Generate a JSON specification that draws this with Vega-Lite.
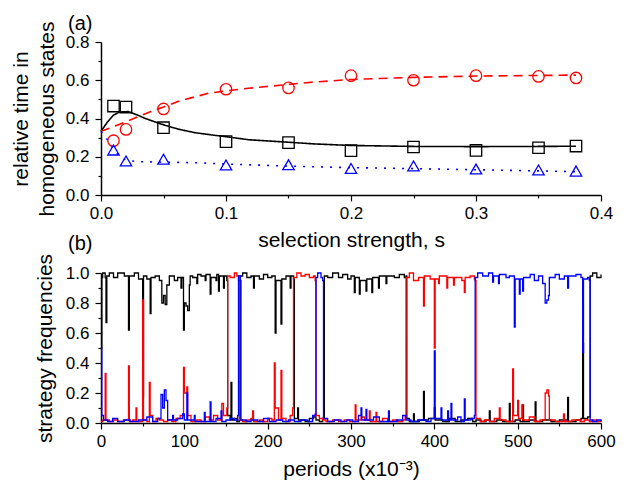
{
  "$schema": "https://vega.github.io/schema/vega-lite/v6.json",
  "padding": {"left": 10, "top": 14, "right": 10, "bottom": 5},
  "background": "white",
  "config": {
    "font": "Liberation Sans",
    "view": {"stroke": null},
    "axis": {"domainColor": "#000", "domainWidth": 1.5, "tickColor": "#000", "tickWidth": 1.2, "labelColor": "#000", "labelFontSize": 17, "titleFontSize": 21, "titleFontWeight": "normal", "titleColor": "#000", "grid": false, "labelFont": "Liberation Sans", "titleFont": "Liberation Sans", "labelOverlap": false, "labelFlush": false}
  },
  "datasets": {
    "pts": [
      {"k": "s1", "s": 0.01, "v": 0.465}, {"k": "s1", "s": 0.02, "v": 0.46}, {"k": "s1", "s": 0.05, "v": 0.352}, {"k": "s1", "s": 0.1, "v": 0.279}, {"k": "s1", "s": 0.15, "v": 0.274}, {"k": "s1", "s": 0.2, "v": 0.232}, {"k": "s1", "s": 0.25, "v": 0.251}, {"k": "s1", "s": 0.3, "v": 0.233}, {"k": "s1", "s": 0.35, "v": 0.247}, {"k": "s1", "s": 0.38, "v": 0.256},
      {"k": "s2", "s": 0.01, "v": 0.284}, {"k": "s2", "s": 0.02, "v": 0.343}, {"k": "s2", "s": 0.05, "v": 0.45}, {"k": "s2", "s": 0.1, "v": 0.553}, {"k": "s2", "s": 0.15, "v": 0.56}, {"k": "s2", "s": 0.2, "v": 0.624}, {"k": "s2", "s": 0.25, "v": 0.6}, {"k": "s2", "s": 0.3, "v": 0.624}, {"k": "s2", "s": 0.35, "v": 0.62}, {"k": "s2", "s": 0.38, "v": 0.612},
      {"k": "s3", "s": 0.01, "v": 0.235}, {"k": "s3", "s": 0.02, "v": 0.178}, {"k": "s3", "s": 0.05, "v": 0.187}, {"k": "s3", "s": 0.1, "v": 0.157}, {"k": "s3", "s": 0.15, "v": 0.158}, {"k": "s3", "s": 0.2, "v": 0.139}, {"k": "s3", "s": 0.25, "v": 0.152}, {"k": "s3", "s": 0.3, "v": 0.136}, {"k": "s3", "s": 0.35, "v": 0.131}, {"k": "s3", "s": 0.38, "v": 0.125}
    ],
    "fit": [
      {"k": "s1", "s": 0, "v": 0.333}, {"k": "s1", "s": 0.005, "v": 0.38}, {"k": "s1", "s": 0.01, "v": 0.418}, {"k": "s1", "s": 0.015, "v": 0.434}, {"k": "s1", "s": 0.022, "v": 0.436}, {"k": "s1", "s": 0.03, "v": 0.416}, {"k": "s1", "s": 0.035, "v": 0.401}, {"k": "s1", "s": 0.0485, "v": 0.37}, {"k": "s1", "s": 0.062, "v": 0.344}, {"k": "s1", "s": 0.075, "v": 0.326}, {"k": "s1", "s": 0.091, "v": 0.312}, {"k": "s1", "s": 0.1, "v": 0.305}, {"k": "s1", "s": 0.118, "v": 0.289}, {"k": "s1", "s": 0.145, "v": 0.278}, {"k": "s1", "s": 0.171, "v": 0.267}, {"k": "s1", "s": 0.2, "v": 0.259}, {"k": "s1", "s": 0.25, "v": 0.254}, {"k": "s1", "s": 0.3, "v": 0.253}, {"k": "s1", "s": 0.35, "v": 0.254}, {"k": "s1", "s": 0.38, "v": 0.255},
      {"k": "s2", "s": 0, "v": 0.333}, {"k": "s2", "s": 0.01, "v": 0.357}, {"k": "s2", "s": 0.02, "v": 0.383}, {"k": "s2", "s": 0.03, "v": 0.41}, {"k": "s2", "s": 0.04, "v": 0.437}, {"k": "s2", "s": 0.05, "v": 0.46}, {"k": "s2", "s": 0.062, "v": 0.49}, {"k": "s2", "s": 0.075, "v": 0.513}, {"k": "s2", "s": 0.086, "v": 0.532}, {"k": "s2", "s": 0.1, "v": 0.545}, {"k": "s2", "s": 0.118, "v": 0.558}, {"k": "s2", "s": 0.145, "v": 0.575}, {"k": "s2", "s": 0.171, "v": 0.591}, {"k": "s2", "s": 0.2, "v": 0.604}, {"k": "s2", "s": 0.25, "v": 0.615}, {"k": "s2", "s": 0.3, "v": 0.622}, {"k": "s2", "s": 0.35, "v": 0.625}, {"k": "s2", "s": 0.38, "v": 0.627},
      {"k": "s3", "s": 0, "v": 0.333}, {"k": "s3", "s": 0.005, "v": 0.29}, {"k": "s3", "s": 0.01, "v": 0.24}, {"k": "s3", "s": 0.015, "v": 0.2}, {"k": "s3", "s": 0.02, "v": 0.182}, {"k": "s3", "s": 0.03, "v": 0.174}, {"k": "s3", "s": 0.05, "v": 0.172}, {"k": "s3", "s": 0.08, "v": 0.168}, {"k": "s3", "s": 0.1, "v": 0.162}, {"k": "s3", "s": 0.15, "v": 0.151}, {"k": "s3", "s": 0.2, "v": 0.143}, {"k": "s3", "s": 0.25, "v": 0.138}, {"k": "s3", "s": 0.3, "v": 0.132}, {"k": "s3", "s": 0.35, "v": 0.126}, {"k": "s3", "s": 0.38, "v": 0.122}
    ],
    "ts": [
      {"k":"s1","p":0,"f":0.5},{"k":"s1","p":1,"f":0.97},{"k":"s1","p":2,"f":1},{"k":"s1","p":5,"f":0.97},{"k":"s1","p":6,"f":0.67},{"k":"s1","p":7,"f":0.98},{"k":"s1","p":10,"f":1},{"k":"s1","p":15,"f":0.97},{"k":"s1","p":20,"f":1},{"k":"s1","p":28,"f":0.98},{"k":"s1","p":33,"f":0.62},{"k":"s1","p":34,"f":0.98},{"k":"s1","p":40,"f":1},{"k":"s1","p":45,"f":0.96},{"k":"s1","p":50,"f":0.18},{"k":"s1","p":51,"f":0.98},{"k":"s1","p":55,"f":0.96},{"k":"s1","p":59,"f":0.73},{"k":"s1","p":60,"f":0.97},{"k":"s1","p":65,"f":0.98},{"k":"s1","p":70,"f":0.95},{"k":"s1","p":73,"f":0.8},{"k":"s1","p":75,"f":0.85},{"k":"s1","p":77,"f":0.79},{"k":"s1","p":79,"f":0.92},{"k":"s1","p":82,"f":0.98},{"k":"s1","p":88,"f":0.95},{"k":"s1","p":92,"f":0.97},{"k":"s1","p":96,"f":0.9},{"k":"s1","p":97,"f":0.97},{"k":"s1","p":99,"f":0.62},{"k":"s1","p":100,"f":0.8},{"k":"s1","p":102,"f":0.78},{"k":"s1","p":104,"f":0.75},{"k":"s1","p":106,"f":0.92},{"k":"s1","p":107,"f":0.98},{"k":"s1","p":110,"f":0.97},{"k":"s1","p":115,"f":0.93},{"k":"s1","p":116,"f":0.99},{"k":"s1","p":120,"f":0.98},{"k":"s1","p":125,"f":0.95},{"k":"s1","p":126,"f":0.99},{"k":"s1","p":131,"f":0.86},{"k":"s1","p":132,"f":0.97},{"k":"s1","p":138,"f":0.95},{"k":"s1","p":139,"f":0.99},{"k":"s1","p":141,"f":0.88},{"k":"s1","p":142,"f":0.98},{"k":"s1","p":147,"f":0.9},{"k":"s1","p":148,"f":0.98},{"k":"s1","p":151,"f":0.95},{"k":"s1","p":152,"f":0.05},{"k":"s1","p":155,"f":0.02},{"k":"s1","p":156,"f":0.27},{"k":"s1","p":157,"f":0.02},{"k":"s1","p":160,"f":0.03},{"k":"s1","p":163,"f":0.01},{"k":"s1","p":166,"f":0.02},{"k":"s1","p":167,"f":0.98},{"k":"s1","p":170,"f":1},{"k":"s1","p":175,"f":0.97},{"k":"s1","p":180,"f":0.98},{"k":"s1","p":183,"f":0.9},{"k":"s1","p":184,"f":0.98},{"k":"s1","p":190,"f":0.96},{"k":"s1","p":195,"f":0.99},{"k":"s1","p":200,"f":0.97},{"k":"s1","p":205,"f":0.98},{"k":"s1","p":209,"f":0.6},{"k":"s1","p":210,"f":0.95},{"k":"s1","p":216,"f":0.66},{"k":"s1","p":217,"f":0.96},{"k":"s1","p":222,"f":0.98},{"k":"s1","p":227,"f":0.9},{"k":"s1","p":228,"f":0.98},{"k":"s1","p":231,"f":0.96},{"k":"s1","p":232,"f":0.03},{"k":"s1","p":236,"f":0.1},{"k":"s1","p":237,"f":0.02},{"k":"s1","p":245,"f":0.01},{"k":"s1","p":250,"f":0.03},{"k":"s1","p":255,"f":0.04},{"k":"s1","p":258,"f":0.02},{"k":"s1","p":262,"f":0.01},{"k":"s1","p":266,"f":0.03},{"k":"s1","p":268,"f":0.98},{"k":"s1","p":272,"f":0.97},{"k":"s1","p":278,"f":1},{"k":"s1","p":285,"f":0.97},{"k":"s1","p":290,"f":0.99},{"k":"s1","p":296,"f":0.96},{"k":"s1","p":300,"f":0.98},{"k":"s1","p":304,"f":0.87},{"k":"s1","p":305,"f":0.97},{"k":"s1","p":310,"f":0.86},{"k":"s1","p":311,"f":0.95},{"k":"s1","p":318,"f":0.88},{"k":"s1","p":319,"f":0.96},{"k":"s1","p":325,"f":0.87},{"k":"s1","p":326,"f":0.97},{"k":"s1","p":333,"f":0.9},{"k":"s1","p":334,"f":0.98},{"k":"s1","p":342,"f":0.93},{"k":"s1","p":343,"f":0.98},{"k":"s1","p":352,"f":0.97},{"k":"s1","p":358,"f":0.99},{"k":"s1","p":364,"f":0.97},{"k":"s1","p":366,"f":0.98},{"k":"s1","p":367,"f":0.03},{"k":"s1","p":370,"f":0.01},{"k":"s1","p":375,"f":0.06},{"k":"s1","p":376,"f":0.01},{"k":"s1","p":382,"f":0.02},{"k":"s1","p":387,"f":0.21},{"k":"s1","p":388,"f":0.02},{"k":"s1","p":393,"f":0.03},{"k":"s1","p":400,"f":0.1},{"k":"s1","p":401,"f":0.02},{"k":"s1","p":410,"f":0.01},{"k":"s1","p":418,"f":0.03},{"k":"s1","p":425,"f":0.01},{"k":"s1","p":432,"f":0.02},{"k":"s1","p":440,"f":0.03},{"k":"s1","p":446,"f":0.01},{"k":"s1","p":450,"f":0.02},{"k":"s1","p":456,"f":0.01},{"k":"s1","p":462,"f":0.02},{"k":"s1","p":466,"f":0.08},{"k":"s1","p":467,"f":0.01},{"k":"s1","p":475,"f":0.02},{"k":"s1","p":482,"f":0.01},{"k":"s1","p":490,"f":0.13},{"k":"s1","p":491,"f":0.01},{"k":"s1","p":497,"f":0.02},{"k":"s1","p":503,"f":0.01},{"k":"s1","p":506,"f":0.12},{"k":"s1","p":507,"f":0.01},{"k":"s1","p":514,"f":0.02},{"k":"s1","p":521,"f":0.14},{"k":"s1","p":522,"f":0.01},{"k":"s1","p":530,"f":0.02},{"k":"s1","p":540,"f":0.01},{"k":"s1","p":550,"f":0.02},{"k":"s1","p":560,"f":0.17},{"k":"s1","p":561,"f":0.01},{"k":"s1","p":570,"f":0.02},{"k":"s1","p":576,"f":0.03},{"k":"s1","p":578,"f":0.53},{"k":"s1","p":579,"f":0.03},{"k":"s1","p":584,"f":0.04},{"k":"s1","p":587,"f":0.98},{"k":"s1","p":590,"f":1},{"k":"s1","p":595,"f":0.97},{"k":"s1","p":600,"f":0.99},
      {"k":"s2","p":0,"f":0.01},{"k":"s2","p":2,"f":0.02},{"k":"s2","p":5,"f":0.33},{"k":"s2","p":6,"f":0.02},{"k":"s2","p":10,"f":0.01},{"k":"s2","p":15,"f":0.02},{"k":"s2","p":20,"f":0.01},{"k":"s2","p":27,"f":0.02},{"k":"s2","p":33,"f":0.38},{"k":"s2","p":34,"f":0.01},{"k":"s2","p":38,"f":0.02},{"k":"s2","p":42,"f":0.1},{"k":"s2","p":43,"f":0.01},{"k":"s2","p":50,"f":0.82},{"k":"s2","p":51,"f":0.02},{"k":"s2","p":55,"f":0.01},{"k":"s2","p":58,"f":0.27},{"k":"s2","p":59,"f":0.05},{"k":"s2","p":62,"f":0.01},{"k":"s2","p":66,"f":0.03},{"k":"s2","p":70,"f":0.02},{"k":"s2","p":75,"f":0.01},{"k":"s2","p":80,"f":0.02},{"k":"s2","p":85,"f":0.01},{"k":"s2","p":90,"f":0.03},{"k":"s2","p":95,"f":0.05},{"k":"s2","p":99,"f":0.37},{"k":"s2","p":100,"f":0.2},{"k":"s2","p":103,"f":0.24},{"k":"s2","p":104,"f":0.05},{"k":"s2","p":108,"f":0.01},{"k":"s2","p":115,"f":0.02},{"k":"s2","p":120,"f":0.01},{"k":"s2","p":125,"f":0.04},{"k":"s2","p":130,"f":0.02},{"k":"s2","p":135,"f":0.05},{"k":"s2","p":140,"f":0.02},{"k":"s2","p":145,"f":0.13},{"k":"s2","p":147,"f":0.05},{"k":"s2","p":151,"f":0.1},{"k":"s2","p":152,"f":0.98},{"k":"s2","p":155,"f":0.97},{"k":"s2","p":160,"f":1},{"k":"s2","p":163,"f":0.98},{"k":"s2","p":165,"f":0.95},{"k":"s2","p":166,"f":0.02},{"k":"s2","p":170,"f":0.01},{"k":"s2","p":175,"f":0.02},{"k":"s2","p":180,"f":0.03},{"k":"s2","p":182,"f":0.08},{"k":"s2","p":183,"f":0.01},{"k":"s2","p":190,"f":0.02},{"k":"s2","p":195,"f":0.01},{"k":"s2","p":200,"f":0.03},{"k":"s2","p":205,"f":0.02},{"k":"s2","p":208,"f":0.4},{"k":"s2","p":209,"f":0.1},{"k":"s2","p":213,"f":0.02},{"k":"s2","p":216,"f":0.35},{"k":"s2","p":217,"f":0.03},{"k":"s2","p":222,"f":0.01},{"k":"s2","p":227,"f":0.05},{"k":"s2","p":230,"f":0.1},{"k":"s2","p":231,"f":0.97},{"k":"s2","p":235,"f":1},{"k":"s2","p":240,"f":0.98},{"k":"s2","p":245,"f":0.99},{"k":"s2","p":250,"f":0.97},{"k":"s2","p":255,"f":0.98},{"k":"s2","p":257,"f":0.95},{"k":"s2","p":258,"f":0.05},{"k":"s2","p":262,"f":0.03},{"k":"s2","p":266,"f":0.02},{"k":"s2","p":270,"f":0.01},{"k":"s2","p":278,"f":0.02},{"k":"s2","p":285,"f":0.01},{"k":"s2","p":292,"f":0.02},{"k":"s2","p":298,"f":0.01},{"k":"s2","p":305,"f":0.12},{"k":"s2","p":306,"f":0.02},{"k":"s2","p":312,"f":0.04},{"k":"s2","p":316,"f":0.02},{"k":"s2","p":322,"f":0.08},{"k":"s2","p":323,"f":0.01},{"k":"s2","p":330,"f":0.07},{"k":"s2","p":331,"f":0.01},{"k":"s2","p":338,"f":0.03},{"k":"s2","p":344,"f":0.01},{"k":"s2","p":350,"f":0.02},{"k":"s2","p":356,"f":0.01},{"k":"s2","p":362,"f":0.02},{"k":"s2","p":365,"f":0.04},{"k":"s2","p":366,"f":0.97},{"k":"s2","p":370,"f":1},{"k":"s2","p":375,"f":0.95},{"k":"s2","p":381,"f":0.97},{"k":"s2","p":387,"f":0.78},{"k":"s2","p":388,"f":0.98},{"k":"s2","p":395,"f":0.96},{"k":"s2","p":400,"f":0.5},{"k":"s2","p":401,"f":0.96},{"k":"s2","p":405,"f":0.93},{"k":"s2","p":406,"f":0.98},{"k":"s2","p":415,"f":0.9},{"k":"s2","p":416,"f":0.97},{"k":"s2","p":423,"f":0.92},{"k":"s2","p":424,"f":0.97},{"k":"s2","p":433,"f":0.95},{"k":"s2","p":436,"f":0.87},{"k":"s2","p":437,"f":0.97},{"k":"s2","p":443,"f":0.98},{"k":"s2","p":448,"f":0.96},{"k":"s2","p":449,"f":0.95},{"k":"s2","p":450,"f":0.03},{"k":"s2","p":455,"f":0.01},{"k":"s2","p":460,"f":0.02},{"k":"s2","p":466,"f":0.01},{"k":"s2","p":472,"f":0.03},{"k":"s2","p":478,"f":0.1},{"k":"s2","p":479,"f":0.02},{"k":"s2","p":486,"f":0.01},{"k":"s2","p":494,"f":0.36},{"k":"s2","p":495,"f":0.05},{"k":"s2","p":500,"f":0.15},{"k":"s2","p":501,"f":0.03},{"k":"s2","p":505,"f":0.12},{"k":"s2","p":506,"f":0.02},{"k":"s2","p":514,"f":0.04},{"k":"s2","p":520,"f":0.01},{"k":"s2","p":527,"f":0.02},{"k":"s2","p":533,"f":0.2},{"k":"s2","p":535,"f":0.22},{"k":"s2","p":537,"f":0.18},{"k":"s2","p":538,"f":0.02},{"k":"s2","p":545,"f":0.01},{"k":"s2","p":555,"f":0.06},{"k":"s2","p":556,"f":0.01},{"k":"s2","p":565,"f":0.02},{"k":"s2","p":575,"f":0.01},{"k":"s2","p":580,"f":0.02},{"k":"s2","p":586,"f":0.01},{"k":"s2","p":590,"f":0.02},{"k":"s2","p":595,"f":0.01},{"k":"s2","p":600,"f":0.02},
      {"k":"s3","p":0,"f":0.5},{"k":"s3","p":1,"f":0.05},{"k":"s3","p":3,"f":0.02},{"k":"s3","p":8,"f":0.01},{"k":"s3","p":14,"f":0.03},{"k":"s3","p":20,"f":0.01},{"k":"s3","p":28,"f":0.02},{"k":"s3","p":35,"f":0.01},{"k":"s3","p":45,"f":0.02},{"k":"s3","p":55,"f":0.04},{"k":"s3","p":62,"f":0.01},{"k":"s3","p":68,"f":0.03},{"k":"s3","p":72,"f":0.19},{"k":"s3","p":74,"f":0.1},{"k":"s3","p":76,"f":0.22},{"k":"s3","p":78,"f":0.15},{"k":"s3","p":80,"f":0.02},{"k":"s3","p":86,"f":0.05},{"k":"s3","p":87,"f":0.02},{"k":"s3","p":92,"f":0.03},{"k":"s3","p":98,"f":0.06},{"k":"s3","p":100,"f":0.02},{"k":"s3","p":103,"f":0.2},{"k":"s3","p":104,"f":0.02},{"k":"s3","p":112,"f":0.05},{"k":"s3","p":113,"f":0.01},{"k":"s3","p":124,"f":0.07},{"k":"s3","p":125,"f":0.01},{"k":"s3","p":131,"f":0.14},{"k":"s3","p":132,"f":0.01},{"k":"s3","p":138,"f":0.03},{"k":"s3","p":144,"f":0.08},{"k":"s3","p":145,"f":0.01},{"k":"s3","p":150,"f":0.02},{"k":"s3","p":155,"f":0.03},{"k":"s3","p":160,"f":0.02},{"k":"s3","p":164,"f":0.05},{"k":"s3","p":165,"f":0.98},{"k":"s3","p":167,"f":0.95},{"k":"s3","p":168,"f":0.02},{"k":"s3","p":174,"f":0.01},{"k":"s3","p":180,"f":0.02},{"k":"s3","p":188,"f":0.01},{"k":"s3","p":195,"f":0.03},{"k":"s3","p":202,"f":0.01},{"k":"s3","p":210,"f":0.02},{"k":"s3","p":218,"f":0.01},{"k":"s3","p":225,"f":0.02},{"k":"s3","p":232,"f":0.01},{"k":"s3","p":240,"f":0.02},{"k":"s3","p":248,"f":0.01},{"k":"s3","p":254,"f":0.05},{"k":"s3","p":257,"f":0.06},{"k":"s3","p":258,"f":0.97},{"k":"s3","p":260,"f":1},{"k":"s3","p":264,"f":0.97},{"k":"s3","p":266,"f":0.95},{"k":"s3","p":267,"f":0.03},{"k":"s3","p":272,"f":0.01},{"k":"s3","p":280,"f":0.02},{"k":"s3","p":288,"f":0.01},{"k":"s3","p":295,"f":0.02},{"k":"s3","p":302,"f":0.01},{"k":"s3","p":309,"f":0.05},{"k":"s3","p":312,"f":0.1},{"k":"s3","p":313,"f":0.02},{"k":"s3","p":318,"f":0.09},{"k":"s3","p":319,"f":0.02},{"k":"s3","p":327,"f":0.04},{"k":"s3","p":334,"f":0.01},{"k":"s3","p":345,"f":0.08},{"k":"s3","p":346,"f":0.01},{"k":"s3","p":355,"f":0.02},{"k":"s3","p":362,"f":0.05},{"k":"s3","p":366,"f":0.02},{"k":"s3","p":372,"f":0.01},{"k":"s3","p":380,"f":0.02},{"k":"s3","p":390,"f":0.01},{"k":"s3","p":396,"f":0.03},{"k":"s3","p":400,"f":0.48},{"k":"s3","p":401,"f":0.03},{"k":"s3","p":408,"f":0.1},{"k":"s3","p":409,"f":0.02},{"k":"s3","p":416,"f":0.08},{"k":"s3","p":417,"f":0.02},{"k":"s3","p":420,"f":0.13},{"k":"s3","p":421,"f":0.02},{"k":"s3","p":428,"f":0.04},{"k":"s3","p":432,"f":0.01},{"k":"s3","p":436,"f":0.16},{"k":"s3","p":437,"f":0.02},{"k":"s3","p":444,"f":0.03},{"k":"s3","p":448,"f":0.05},{"k":"s3","p":449,"f":0.97},{"k":"s3","p":452,"f":1},{"k":"s3","p":458,"f":0.98},{"k":"s3","p":465,"f":1},{"k":"s3","p":470,"f":0.94},{"k":"s3","p":471,"f":0.98},{"k":"s3","p":477,"f":0.93},{"k":"s3","p":478,"f":0.99},{"k":"s3","p":486,"f":0.97},{"k":"s3","p":490,"f":0.98},{"k":"s3","p":496,"f":0.64},{"k":"s3","p":497,"f":0.96},{"k":"s3","p":502,"f":0.86},{"k":"s3","p":503,"f":0.96},{"k":"s3","p":506,"f":0.88},{"k":"s3","p":507,"f":0.97},{"k":"s3","p":515,"f":0.99},{"k":"s3","p":520,"f":0.95},{"k":"s3","p":525,"f":0.98},{"k":"s3","p":530,"f":0.93},{"k":"s3","p":533,"f":0.8},{"k":"s3","p":535,"f":0.82},{"k":"s3","p":537,"f":0.85},{"k":"s3","p":538,"f":0.97},{"k":"s3","p":545,"f":0.99},{"k":"s3","p":550,"f":0.96},{"k":"s3","p":556,"f":0.98},{"k":"s3","p":560,"f":0.9},{"k":"s3","p":561,"f":0.98},{"k":"s3","p":570,"f":0.99},{"k":"s3","p":576,"f":0.97},{"k":"s3","p":578,"f":0.47},{"k":"s3","p":579,"f":0.96},{"k":"s3","p":584,"f":0.97},{"k":"s3","p":586,"f":0.95},{"k":"s3","p":587,"f":0.02},{"k":"s3","p":590,"f":0.01},{"k":"s3","p":595,"f":0.02},{"k":"s3","p":600,"f":0.01}
    ]
  },
  "bounds": "flush",
  "spacing": 78,
  "vconcat": [
    {
      "width": 500,
      "height": 153,
      "title": {"text": "(a)", "dx": -33, "offset": -13, "fontSize": 20, "fontWeight": "normal", "anchor": "start", "frame": "group", "color": "#000", "font": "Liberation Sans"},
      "encoding": {
        "x": {"field": "s", "type": "quantitative", "scale": {"domain": [0, 0.4]},
          "axis": {"values": [0, 0.05, 0.1, 0.15, 0.2, 0.25, 0.3, 0.35, 0.4], "labelExpr": "round(datum.value*20) % 2 == 0 ? format(datum.value, '.1f') : ''", "tickSize": {"condition": {"test": "round(datum.value*20) % 2 == 0", "value": 6}, "value": 3}, "title": "selection strength, s", "titlePadding": 8, "labelPadding": 4, "labelFontSize": 17, "titleFontSize": 21, "labelFont": "Liberation Sans", "titleFont": "Liberation Sans"}},
        "y": {"field": "v", "type": "quantitative", "scale": {"domain": [0, 0.8]},
          "axis": {"values": [0, 0.1, 0.2, 0.3, 0.4, 0.5, 0.6, 0.7, 0.8], "labelExpr": "round(datum.value*10) % 2 == 0 ? format(datum.value, '.1f') : ''", "tickSize": {"condition": {"test": "round(datum.value*10) % 2 == 0", "value": 6}, "value": 3}, "title": ["relative time in", "homogeneous states"], "titlePadding": 8, "labelPadding": 6, "titleLineHeight": 26, "labelFontSize": 17, "titleFontSize": 21, "labelFont": "Liberation Sans", "titleFont": "Liberation Sans"}},
        "color": {"field": "k", "type": "nominal", "scale": {"domain": ["s1", "s2", "s3"], "range": ["#000000", "#ff0000", "#0000ff"]}, "legend": null}
      },
      "layer": [
        {"data": {"name": "fit"}, "mark": {"type": "line", "strokeWidth": 1.6},
          "encoding": {"strokeDash": {"field": "k", "type": "nominal", "scale": {"domain": ["s1", "s2", "s3"], "range": [[1, 0], [9, 6], [2, 7]]}, "legend": null}}},
        {"data": {"name": "pts"}, "mark": {"type": "point", "filled": false, "strokeWidth": 1.3, "size": 130, "opacity": 1},
          "encoding": {"shape": {"field": "k", "type": "nominal", "scale": {"domain": ["s1", "s2", "s3"], "range": ["square", "circle", "triangle-up"]}, "legend": null}}}
      ]
    },
    {
      "width": 500,
      "height": 150,
      "title": {"text": "(b)", "dx": -33, "offset": -1, "fontSize": 20, "fontWeight": "normal", "anchor": "start", "frame": "group", "color": "#000", "font": "Liberation Sans"},
      "data": {"name": "ts"},
      "mark": {"type": "line", "strokeWidth": 1.3, "interpolate": "step-after"},
      "encoding": {
        "x": {"field": "p", "type": "quantitative", "scale": {"domain": [0, 600]},
          "axis": {"values": [0, 50, 100, 150, 200, 250, 300, 350, 400, 450, 500, 550, 600], "labelExpr": "datum.value % 100 == 0 ? datum.value : ''", "tickSize": {"condition": {"test": "datum.value % 100 == 0", "value": 6}, "value": 3}, "title": "periods (x10⁻³)", "titlePadding": 9, "labelPadding": 4, "labelFontSize": 17, "titleFontSize": 21, "labelFont": "Liberation Sans", "titleFont": "Liberation Sans"}},
        "y": {"field": "f", "type": "quantitative", "scale": {"domain": [0, 1]},
          "axis": {"values": [0, 0.1, 0.2, 0.3, 0.4, 0.5, 0.6, 0.7, 0.8, 0.9, 1], "labelExpr": "round(datum.value*10) % 2 == 0 ? format(datum.value, '.1f') : ''", "tickSize": {"condition": {"test": "round(datum.value*10) % 2 == 0", "value": 6}, "value": 3}, "title": "strategy frequencies", "titlePadding": 10, "labelPadding": 6, "labelFontSize": 17, "titleFontSize": 21, "labelFont": "Liberation Sans", "titleFont": "Liberation Sans"}},
        "color": {"field": "k", "type": "nominal", "scale": {"domain": ["s1", "s2", "s3"], "range": ["#000000", "#ff0000", "#0000ff"]}, "legend": null}
      }
    }
  ]
}
